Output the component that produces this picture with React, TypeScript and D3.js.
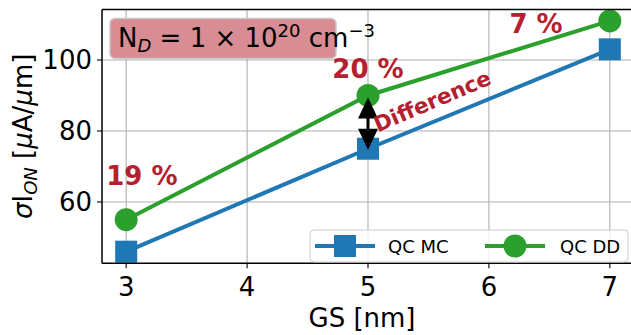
import React, { useEffect, useRef } from "react";
import * as d3 from "d3";

// grain size [nm]
const gs = [3, 5, 7];
// sigma I_ON values
const qcMC = [46, 75, 103];
const qcDD = [55, 90, 111];

const xTicks = [3, 4, 5, 6, 7];
const yTicks = [60, 80, 100];

// percent labels: text and data position
const pctText = ["19 %", "20 %", "7 %"];
const pctX = [3.13, 5.0, 6.39];
const pctY = [64.8, 94.9, 107.6];

const BLUE = "#1f77b4";
const GREEN = "#2ca02c";
const RED = "#b5202e";
const FONT = "DejaVu Sans";

const App: React.FC = () => {
    const svgRef = useRef<SVGSVGElement | null>(null);

    useEffect(() => {
        if (!svgRef.current) return;
        const width = 631;
        const height = 335;
        const svg = d3.select(svgRef.current);
        svg.selectAll("*").remove();
        svg.attr("width", width).attr("height", height);

        const left = 102;
        const right = 634;
        const top = 9.4;
        const bottom = 263.2;

        const x = d3.scaleLinear().domain([2.8, 7.2]).range([left, right]);
        const y = d3.scaleLinear().domain([42.75, 114.25]).range([bottom, top]);

        // grid
        const grid = svg.append("g");
        xTicks.forEach((t) => {
            grid.append("line")
                .attr("x1", x(t)).attr("x2", x(t))
                .attr("y1", top).attr("y2", bottom)
                .attr("stroke", "#b0b0b0").attr("stroke-width", 1.1);
        });
        yTicks.forEach((t) => {
            grid.append("line")
                .attr("x1", left).attr("x2", right)
                .attr("y1", y(t)).attr("y2", y(t))
                .attr("stroke", "#b0b0b0").attr("stroke-width", 1.1);
        });

        // ticks + labels
        xTicks.forEach((t) => {
            svg.append("line")
                .attr("x1", x(t)).attr("x2", x(t))
                .attr("y1", bottom).attr("y2", bottom + 5)
                .attr("stroke", "#000").attr("stroke-width", 1.1);
            svg.append("text")
                .attr("x", x(t)).attr("y", bottom + 33)
                .attr("text-anchor", "middle")
                .attr("font-family", FONT).attr("font-size", 26)
                .text(String(t));
        });
        yTicks.forEach((t) => {
            svg.append("line")
                .attr("x1", left - 5).attr("x2", left)
                .attr("y1", y(t)).attr("y2", y(t))
                .attr("stroke", "#000").attr("stroke-width", 1.1);
            svg.append("text")
                .attr("x", left - 10).attr("y", y(t) + 9.5)
                .attr("text-anchor", "end")
                .attr("font-family", FONT).attr("font-size", 26)
                .text(String(t));
        });

        // axis labels
        svg.append("text")
            .attr("x", (left + 622) / 2).attr("y", 327)
            .attr("text-anchor", "middle")
            .attr("font-family", FONT).attr("font-size", 26)
            .text("GS [nm]");

        const yl = svg.append("text")
            .attr("transform", `translate(32,${(top + bottom) / 2}) rotate(-90)`)
            .attr("text-anchor", "middle")
            .attr("font-family", FONT).attr("font-size", 26);
        yl.append("tspan").attr("font-style", "italic").text("σ");
        yl.append("tspan").text("I");
        yl.append("tspan").attr("font-style", "italic").attr("font-size", 18).attr("dy", 5).text("ON");
        yl.append("tspan").attr("dy", -5).text(" [");
        yl.append("tspan").attr("font-style", "italic").text("μ");
        yl.append("tspan").text("A/");
        yl.append("tspan").attr("font-style", "italic").text("μ");
        yl.append("tspan").text("m]");

        // lines
        const line = d3.line<number>()
            .x((_d, i) => x(gs[i]))
            .y((d) => y(d));

        svg.append("path").datum(qcMC)
            .attr("d", line).attr("fill", "none")
            .attr("stroke", BLUE).attr("stroke-width", 4);
        svg.append("path").datum(qcDD)
            .attr("d", line).attr("fill", "none")
            .attr("stroke", GREEN).attr("stroke-width", 4);

        const sq = 22;
        qcMC.forEach((v, i) => {
            svg.append("rect")
                .attr("x", x(gs[i]) - sq / 2).attr("y", y(v) - sq / 2)
                .attr("width", sq).attr("height", sq)
                .attr("fill", BLUE);
        });
        qcDD.forEach((v, i) => {
            svg.append("circle")
                .attr("cx", x(gs[i])).attr("cy", y(v)).attr("r", 11.5)
                .attr("fill", GREEN);
        });

        // double arrow between the two series at GS = 5
        const ax = x(gs[1]);
        const yTop = y(qcDD[1]) + 2;
        const yBot = y(qcMC[1]) + 1;
        const headL = 21;
        const headW = 10;
        svg.append("line")
            .attr("x1", ax).attr("x2", ax)
            .attr("y1", yTop + headL - 2).attr("y2", yBot - headL + 2)
            .attr("stroke", "#000").attr("stroke-width", 3);
        svg.append("path")
            .attr("d", `M${ax},${yTop} L${ax - headW},${yTop + headL} L${ax + headW},${yTop + headL} Z`)
            .attr("fill", "#000");
        svg.append("path")
            .attr("d", `M${ax},${yBot} L${ax - headW},${yBot - headL} L${ax + headW},${yBot - headL} Z`)
            .attr("fill", "#000");

        // "Difference" label
        svg.append("text")
            .attr("transform", `translate(${x(5.08)},${y(79.6)}) rotate(-23)`)
            .attr("font-family", FONT).attr("font-weight", "bold")
            .attr("font-size", 21.5).attr("fill", RED)
            .text("Difference");

        // percent labels
        pctText.forEach((t, i) => {
            svg.append("text")
                .attr("x", x(pctX[i])).attr("y", y(pctY[i]))
                .attr("text-anchor", "middle")
                .attr("font-family", FONT).attr("font-weight", "bold")
                .attr("font-size", 26).attr("fill", RED)
                .text(t);
        });

        // N_D box
        svg.append("rect")
            .attr("x", left + 8).attr("y", top + 9)
            .attr("width", 226).attr("height", 40).attr("rx", 5)
            .attr("fill", "rgb(216,140,148)")
            .attr("stroke", "#c8c8c8").attr("stroke-width", 1.5);
        const nd = svg.append("text")
            .attr("x", left + 16).attr("y", top + 38)
            .attr("font-family", FONT).attr("font-size", 26);
        nd.append("tspan").text("N");
        nd.append("tspan").attr("font-style", "italic").attr("font-size", 18).attr("dy", 5).text("D");
        nd.append("tspan").attr("dy", -5).text(" = 1 × 10");
        nd.append("tspan").attr("font-size", 18).attr("dy", -10).text("20");
        nd.append("tspan").attr("dy", 10).text(" cm");
        nd.append("tspan").attr("font-size", 18).attr("dy", -10).text("−3");

        // spines (right one falls outside the picture)
        svg.append("line").attr("x1", left).attr("x2", left).attr("y1", top).attr("y2", bottom)
            .attr("stroke", "#000").attr("stroke-width", 1.5);
        svg.append("line").attr("x1", left).attr("x2", right).attr("y1", bottom).attr("y2", bottom)
            .attr("stroke", "#000").attr("stroke-width", 1.5);
        svg.append("line").attr("x1", left).attr("x2", right).attr("y1", top).attr("y2", top)
            .attr("stroke", "#000").attr("stroke-width", 1.5);

        // legend
        const lg = svg.append("g");
        lg.append("rect")
            .attr("x", 310).attr("y", 230).attr("width", 318).attr("height", 32).attr("rx", 4)
            .attr("fill", "#fff").attr("fill-opacity", 0.8)
            .attr("stroke", "#cccccc").attr("stroke-width", 1);
        const ly = 246;
        lg.append("line").attr("x1", 315).attr("x2", 375).attr("y1", ly).attr("y2", ly)
            .attr("stroke", BLUE).attr("stroke-width", 4);
        lg.append("rect").attr("x", 345 - sq / 2).attr("y", ly - sq / 2)
            .attr("width", sq).attr("height", sq).attr("fill", BLUE);
        lg.append("text").attr("x", 388).attr("y", ly + 6.5)
            .attr("font-family", FONT).attr("font-size", 18).text("QC MC");
        lg.append("line").attr("x1", 485).attr("x2", 545).attr("y1", ly).attr("y2", ly)
            .attr("stroke", GREEN).attr("stroke-width", 4);
        lg.append("circle").attr("cx", 515).attr("cy", ly).attr("r", 11.5).attr("fill", GREEN);
        lg.append("text").attr("x", 560).attr("y", ly + 6.5)
            .attr("font-family", FONT).attr("font-size", 18).text("QC DD");
    }, []);

    return (
        <svg
            ref={svgRef}
            style={{ position: "absolute", left: 0, top: 0, display: "block", background: "#fff", overflow: "hidden" }}
        ></svg>
    );
};

export default App;
